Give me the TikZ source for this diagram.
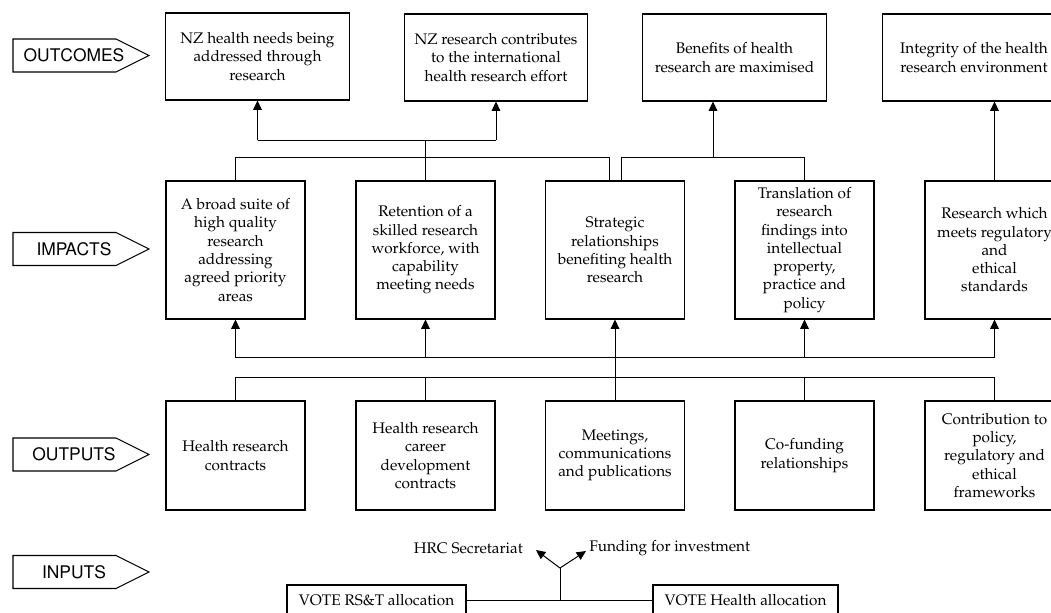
\documentclass[tikz,border=0pt]{standalone}
\usepackage[T1]{fontenc}
\usepackage{mathpazo}
\usepackage[scaled=0.92]{helvet}
\usetikzlibrary{arrows.meta}
\begin{document}
\begin{tikzpicture}[x=0.75pt,y=-0.75pt,
  box/.style={draw, line width=0.8pt, align=center, inner sep=0pt,
    font=\fontsize{11.5}{13.7}\selectfont},
  obox/.style={box, minimum width=137.5pt, minimum height=65.25pt},
  ibox/.style={box, minimum width=104.25pt, minimum height=103.5pt},
  pbox/.style={box, minimum width=104.25pt, minimum height=81.75pt},
  vbox/.style={box, minimum height=23.25pt},
  lbl/.style={inner sep=0pt, font=\fontsize{11.5}{13.7}\selectfont},
  tagtext/.style={inner sep=0pt, font=\fontsize{14.2}{16}\selectfont\sffamily},
  tagline/.style={line width=0.8pt},
  conn/.style={line width=0.75pt},
  arr/.style={line width=0.75pt, -{Triangle[width=6.5pt,length=7pt]}}]
\useasboundingbox (0,0) rectangle (1051,612);
\clip (0,0) rectangle (1051,612);

% level tags
\newcommand{\levelTag}[3]{%
  \draw[tagline] (13,{#1-16.5}) -- (116,{#1-16.5}) -- (149,#1) -- (116,{#1+16.5}) -- (13,{#1+16.5}) -- cycle;
  \node[tagtext] (#2) at (74,#1) {#3};}
\levelTag{55.5}{tOutc}{OUTCOMES}
\levelTag{249}{tImp}{IMPACTS}
\levelTag{454.5}{tOutp}{OUTPUTS}
\levelTag{572}{tInp}{INPUTS}

% outcomes
\node[obox] (O1) at (257.5,56.5) {NZ health needs being\\addressed through\\research};
\node[obox] (O2) at (496,57.5) {NZ research contributes\\to the international\\health research effort};
\node[obox] (O3) at (734.5,57.5) {Benefits of health\\research are maximised};
\node[obox] (O4) at (974,57.5) {Integrity of the health\\research environment};

% impacts
\node[ibox] (I1) at (235.5,250) {A broad suite of\\high quality\\research\\addressing\\agreed priority\\areas};
\node[ibox] (I2) at (425.5,250) {Retention of a\\skilled research\\workforce, with\\capability\\meeting needs};
\node[ibox] (I3) at (615,250) {Strategic\\relationships\\benefiting health\\research};
\node[ibox] (I4) at (804.5,250) {Translation of\\research\\findings into\\intellectual\\property,\\practice and\\policy};
\node[ibox] (I5) at (994.5,250) {Research which\\meets regulatory\\and\\ethical\\standards};

% outputs
\node[pbox] (P1) at (235.5,455.5) {Health research\\contracts};
\node[pbox] (P2) at (425.5,455.5) {Health research\\career\\development\\contracts};
\node[pbox] (P3) at (615,455.5) {Meetings,\\communications\\and publications};
\node[pbox] (P4) at (804.5,455.5) {Co-funding\\relationships};
\node[pbox] (P5) at (994.5,455.5) {Contribution to\\policy,\\regulatory and\\ethical\\frameworks};

% inputs
\node[vbox, minimum width=134.25pt] (RST) at (376.5,600.5) {VOTE RS\&T allocation};
\node[vbox, minimum width=138.75pt] (HLT) at (745.5,600.5) {VOTE Health allocation};
\node[lbl, anchor=east] (hrc) at (523,548) {HRC Secretariat};
\node[lbl, anchor=west] (fund) at (589,548) {Funding for investment};

% impacts -> outcomes
\coordinate (h1) at (0,157);
\coordinate (h2) at (0,140);
\draw[conn] (I1.north) |- ([xshift=-4.5pt]I3.north |- h1) -- ([xshift=-4.5pt]I3.north);
\draw[conn] (I2.north) -- (I2.north |- h2);
\draw[conn] (O1.south |- h2) -- (O2.south |- h2);
\draw[arr] (O1.south |- h2) -- (O1.south);
\draw[arr] (O2.south |- h2) -- (O2.south);
\draw[conn] ([xshift=4.5pt]I3.north) |- (I4.north |- h1) -- (I4.north);
\coordinate (a3) at (713,157);
\draw[arr] (a3) -- (a3 |- O3.south);
\draw[arr] (I5.north) -- (I5.north |- O4.south);

% outputs -> impacts
\coordinate (h3) at (0,357.5);
\coordinate (h4) at (0,377);
\draw[conn] (I1.south |- h3) -- (I5.south |- h3);
\foreach \n in {I1,I2,I4,I5} \draw[arr] (\n.south |- h3) -- (\n.south);
\draw[arr] (P3.north) -- (I3.south);
\draw[conn] (P1.north |- h4) -- (P5.north |- h4);
\foreach \n in {P1,P2,P4,P5} \draw[conn] (\n.north |- h4) -- (\n.north);

% inputs
\coordinate (j) at (560,600.5);
\coordinate (fork) at (560,568);
\coordinate (hrcTip) at (536,550);
\coordinate (fundTip) at (586,551);
\draw[conn] (RST.east) -- (HLT.west);
\draw[conn] (j) -- (fork);
\draw[arr] (fork) -- (hrcTip);
\draw[arr] (fork) -- (fundTip);
\end{tikzpicture}
\end{document}
